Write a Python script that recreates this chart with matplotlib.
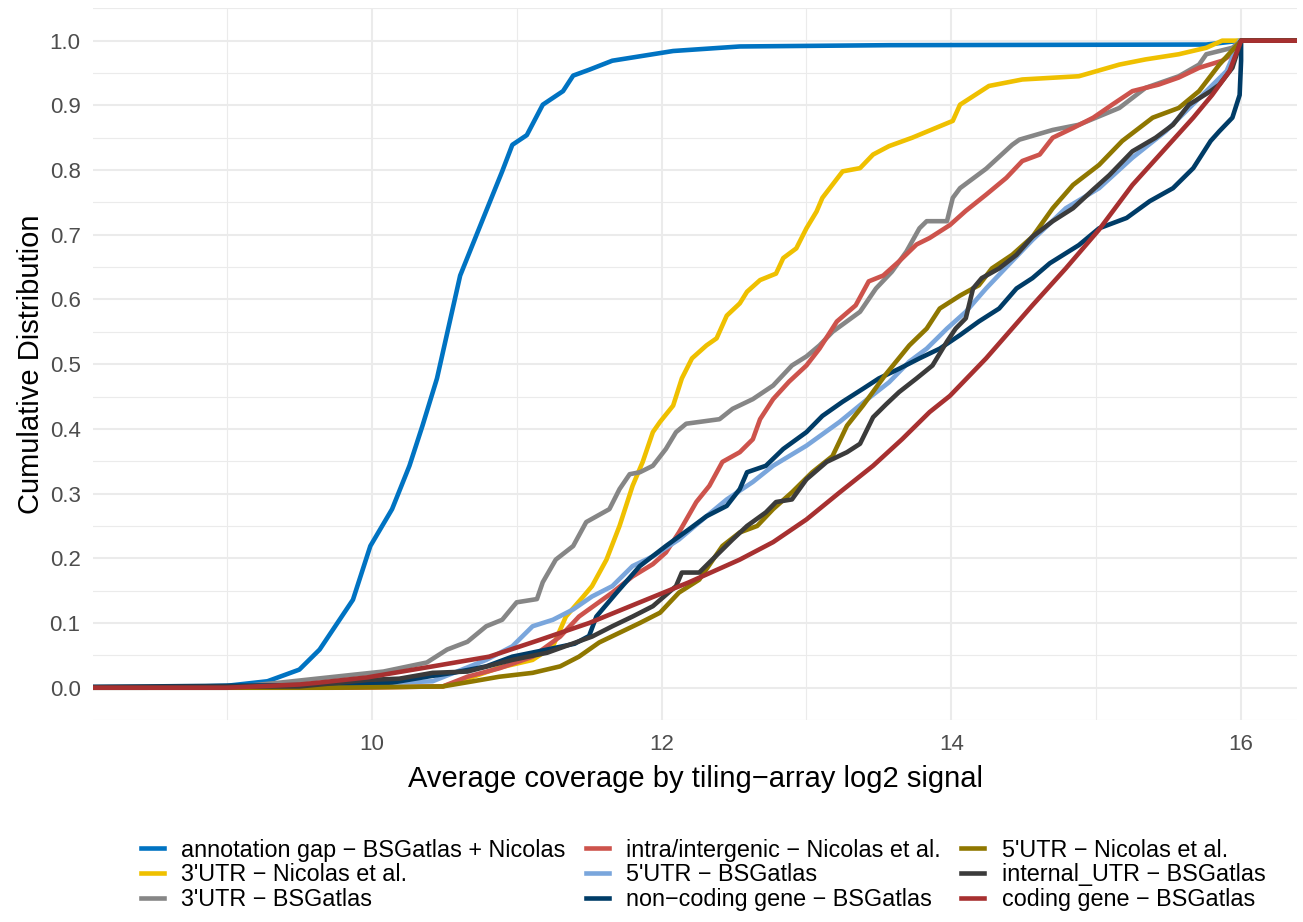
import numpy as np
import matplotlib
matplotlib.use("Agg")
import matplotlib.pyplot as plt

# Series (order = legend order = drawing order)
labels = [
    "annotation gap \u2212 BSGatlas + Nicolas",
    "3'UTR \u2212 Nicolas et al.",
    "3'UTR \u2212 BSGatlas",
    "intra/intergenic \u2212 Nicolas et al.",
    "5'UTR \u2212 BSGatlas",
    "non\u2212coding gene \u2212 BSGatlas",
    "5'UTR \u2212 Nicolas et al.",
    "internal_UTR \u2212 BSGatlas",
    "coding gene \u2212 BSGatlas",
]
colors = ["#0073C2", "#EFC000", "#868686", "#CD534C", "#7AA6DC",
          "#003C67", "#8F7700", "#3B3B3B", "#A73030"]

# ECDF points (log2 signal, cumulative fraction)
gap_x = [8.45, 9.0, 9.28, 9.5, 9.64, 9.87, 9.99, 10.14, 10.26, 10.35, 10.45, 10.61, 10.77,
         10.90, 10.97, 11.07, 11.18, 11.32, 11.39, 11.50, 11.66, 12.08, 12.54, 13.57, 15.76, 16.0]
gap_y = [0.0, 0.003, 0.01, 0.028, 0.059, 0.136, 0.219, 0.276, 0.343, 0.405, 0.478, 0.637, 0.726,
         0.798, 0.839, 0.854, 0.901, 0.922, 0.946, 0.955, 0.969, 0.984, 0.991, 0.993, 0.994, 1.0]

utr3_nic_x = [9.7, 10.49, 10.70, 10.88, 11.11, 11.25, 11.34, 11.46, 11.52, 11.62, 11.71, 11.80,
              11.87, 11.94, 11.99, 12.08, 12.14, 12.21, 12.31, 12.38, 12.45, 12.54, 12.59, 12.68,
              12.79, 12.84, 12.93, 13.00, 13.07, 13.11, 13.25, 13.37, 13.46, 13.57, 13.73, 14.01,
              14.06, 14.26, 14.49, 14.88, 15.16, 15.34, 15.57, 15.76, 15.87, 16.0]
utr3_nic_y = [0.0, 0.002, 0.017, 0.031, 0.043, 0.064, 0.11, 0.141, 0.157, 0.198, 0.25, 0.312,
              0.349, 0.395, 0.411, 0.436, 0.478, 0.509, 0.529, 0.54, 0.575, 0.594, 0.612, 0.63,
              0.64, 0.664, 0.679, 0.71, 0.736, 0.757, 0.798, 0.803, 0.824, 0.837, 0.85, 0.876,
              0.901, 0.93, 0.94, 0.945, 0.963, 0.971, 0.979, 0.989, 1.0, 1.0]

utr3_bsg_x = [9.0, 9.37, 9.87, 10.08, 10.38, 10.52, 10.66, 10.79, 10.90, 11.00, 11.14, 11.18,
              11.27, 11.39, 11.48, 11.64, 11.71, 11.78, 11.85, 11.94, 12.03, 12.10, 12.17, 12.40,
              12.49, 12.63, 12.77, 12.90, 13.00, 13.09, 13.18, 13.37, 13.48, 13.59, 13.69, 13.78,
              13.83, 13.97, 14.01, 14.06, 14.24, 14.42, 14.47, 14.70, 14.88, 15.16, 15.34, 15.57,
              15.71, 15.76, 15.94, 16.0]
utr3_bsg_y = [0.0, 0.008, 0.02, 0.025, 0.039, 0.059, 0.071, 0.095, 0.105, 0.132, 0.137, 0.163,
              0.198, 0.219, 0.256, 0.276, 0.307, 0.33, 0.333, 0.343, 0.369, 0.395, 0.408, 0.415,
              0.431, 0.446, 0.467, 0.498, 0.512, 0.529, 0.55, 0.581, 0.617, 0.643, 0.674, 0.71,
              0.721, 0.721, 0.757, 0.772, 0.802, 0.839, 0.847, 0.862, 0.87, 0.896, 0.927, 0.945,
              0.963, 0.979, 0.989, 1.0]

intra_x = [9.8, 10.49, 10.66, 10.88, 11.11, 11.30, 11.43, 11.66, 11.80, 11.94, 12.03, 12.12,
           12.24, 12.33, 12.42, 12.54, 12.63, 12.68, 12.77, 12.88, 13.00, 13.09, 13.21, 13.34,
           13.43, 13.53, 13.64, 13.76, 13.85, 13.99, 14.10, 14.24, 14.38, 14.49, 14.61, 14.70,
           14.84, 14.98, 15.11, 15.25, 15.43, 15.57, 15.71, 15.87, 15.97, 16.0]
intra_y = [0.0, 0.002, 0.017, 0.03, 0.048, 0.079, 0.11, 0.147, 0.172, 0.191, 0.209, 0.24,
           0.287, 0.312, 0.349, 0.364, 0.384, 0.415, 0.446, 0.473, 0.498, 0.524, 0.566, 0.591,
           0.628, 0.637, 0.659, 0.685, 0.695, 0.715, 0.737, 0.762, 0.788, 0.814, 0.824, 0.85,
           0.865, 0.881, 0.901, 0.922, 0.932, 0.943, 0.958, 0.969, 0.984, 1.0]

utr5_bsg_x = [9.0, 9.7, 10.19, 10.42, 10.79, 10.97, 11.11, 11.25, 11.39, 11.52, 11.66, 11.80,
              11.94, 12.12, 12.31, 12.45, 12.63, 12.77, 13.00, 13.23, 13.41, 13.57, 13.71, 13.83,
              13.97, 14.10, 14.24, 14.38, 14.56, 14.79, 15.02, 15.25, 15.48, 15.62, 15.76, 15.90,
              15.99]
utr5_bsg_y = [0.0, 0.003, 0.008, 0.01, 0.043, 0.064, 0.095, 0.105, 0.121, 0.141, 0.157, 0.188,
              0.203, 0.229, 0.265, 0.291, 0.318, 0.343, 0.374, 0.411, 0.444, 0.472, 0.504, 0.524,
              0.555, 0.581, 0.617, 0.65, 0.692, 0.741, 0.772, 0.819, 0.86, 0.891, 0.922, 0.953,
              1.0]

ncg_x = [8.45, 9.5, 9.97, 10.14, 10.38, 10.56, 10.79, 10.97, 11.21, 11.40, 11.50, 11.55, 11.69,
         11.85, 12.03, 12.19, 12.31, 12.45, 12.54, 12.59, 12.72, 12.84, 13.00, 13.11, 13.25,
         13.39, 13.50, 13.64, 13.78, 13.92, 14.06, 14.19, 14.33, 14.45, 14.56, 14.68, 14.88,
         15.02, 15.21, 15.37, 15.53, 15.67, 15.79, 15.85, 15.94, 15.99, 16.0, 16.0]
ncg_y = [0.002, 0.004, 0.006, 0.008, 0.017, 0.023, 0.033, 0.048, 0.059, 0.068, 0.08, 0.11, 0.147,
         0.188, 0.219, 0.245, 0.265, 0.281, 0.307, 0.333, 0.343, 0.369, 0.395, 0.42, 0.442,
         0.462, 0.478, 0.493, 0.509, 0.524, 0.545, 0.566, 0.586, 0.617, 0.633, 0.656, 0.684,
         0.71, 0.726, 0.752, 0.772, 0.803, 0.845, 0.86, 0.881, 0.916, 0.969, 1.0]

utr5_nic_x = [9.73, 10.49, 10.70, 10.88, 11.11, 11.30, 11.43, 11.57, 11.71, 11.85, 11.99, 12.12,
              12.26, 12.42, 12.54, 12.66, 12.77, 12.90, 13.04, 13.18, 13.28, 13.39, 13.55, 13.71,
              13.83, 13.92, 14.06, 14.19, 14.28, 14.42, 14.56, 14.70, 14.84, 15.02, 15.18, 15.39,
              15.57, 15.71, 15.85, 16.0]
utr5_nic_y = [0.0, 0.002, 0.01, 0.017, 0.023, 0.033, 0.048, 0.07, 0.085, 0.10, 0.116, 0.147,
              0.167, 0.219, 0.24, 0.25, 0.276, 0.302, 0.333, 0.358, 0.405, 0.436, 0.485, 0.529,
              0.555, 0.586, 0.606, 0.622, 0.648, 0.669, 0.697, 0.741, 0.777, 0.808, 0.845, 0.881,
              0.896, 0.922, 0.963, 1.0]

iutr_x = [9.5, 9.97, 10.19, 10.42, 10.66, 10.97, 11.21, 11.52, 11.66, 11.80, 11.94, 12.10,
          12.14, 12.26, 12.35, 12.49, 12.59, 12.72, 12.79, 12.90, 13.00, 13.14, 13.28, 13.37,
          13.46, 13.55, 13.64, 13.76, 13.87, 13.97, 14.03, 14.10, 14.15, 14.21, 14.33, 14.45,
          14.56, 14.70, 14.84, 14.98, 15.09, 15.25, 15.41, 15.53, 15.64, 15.79, 15.85, 15.94,
          16.0]
iutr_y = [0.002, 0.012, 0.014, 0.023, 0.025, 0.043, 0.054, 0.079, 0.095, 0.11, 0.126, 0.157,
          0.178, 0.178, 0.198, 0.229, 0.25, 0.271, 0.287, 0.291, 0.322, 0.349, 0.364, 0.377,
          0.418, 0.438, 0.457, 0.478, 0.498, 0.535, 0.555, 0.571, 0.617, 0.633, 0.648, 0.669,
          0.697, 0.721, 0.741, 0.77, 0.792, 0.829, 0.85, 0.87, 0.901, 0.922, 0.932, 0.958,
          1.0]

coding_x = [9.0, 9.5, 9.64, 9.97, 10.42, 10.81, 11.16, 11.50, 11.85, 12.19, 12.54, 12.77,
            13.00, 13.23, 13.46, 13.66, 13.85, 13.99, 14.24, 14.56, 14.79, 15.02, 15.25, 15.48,
            15.67, 15.80, 15.92, 16.0]
coding_y = [0.0, 0.005, 0.008, 0.016, 0.033, 0.048, 0.074, 0.10, 0.132, 0.163, 0.198, 0.225,
            0.26, 0.302, 0.343, 0.384, 0.426, 0.451, 0.509, 0.591, 0.648, 0.708, 0.777, 0.834,
            0.881, 0.916, 0.953, 1.0]

series_x = [gap_x, utr3_nic_x, utr3_bsg_x, intra_x, utr5_bsg_x, ncg_x, utr5_nic_x, iutr_x, coding_x]
series_y = [gap_y, utr3_nic_y, utr3_bsg_y, intra_y, utr5_bsg_y, ncg_y, utr5_nic_y, iutr_y, coding_y]


def main():
    plt.rcParams['font.family'] = ['Liberation Sans', 'DejaVu Sans']

    fig = plt.figure(figsize=(13.03, 9.22), dpi=100)
    ax = fig.add_axes([0.0714, 0.219, 0.924, 0.772])

    xlo, xhi = 8.076, 16.386
    for xs, ys, lab, col in zip(series_x, series_y, labels, colors):
        # pad like stat_ecdf: flat at 0 to the left, flat at 1 to the right
        xs = [xlo - 1] + list(xs) + [xhi + 1]
        ys = [0.0] + list(ys) + [1.0]
        ax.plot(xs, ys, color=col, lw=3.3, label=lab)

    ax.set_xlim(xlo, xhi)
    ax.set_ylim(-0.05, 1.05)
    ax.set_xticks([10, 12, 14, 16])
    ax.set_xticks([9, 11, 13, 15], minor=True)
    ax.set_yticks(np.arange(0, 1.01, 0.1))
    ax.set_yticks(np.arange(-0.05, 1.06, 0.1), minor=True)
    ax.set_yticklabels([f"{v:.1f}" for v in np.arange(0, 1.01, 0.1)])

    ax.grid(which='major', color='#EBEBEB', lw=1.5)
    ax.grid(which='minor', color='#EBEBEB', lw=0.8)
    ax.set_axisbelow(True)
    for s in ax.spines.values():
        s.set_visible(False)
    ax.tick_params(which='both', length=0)
    ax.tick_params(axis='both', labelsize=16, labelcolor='#4D4D4D')
    ax.tick_params(axis='x', pad=10)
    ax.tick_params(axis='y', pad=9)

    ax.set_xlabel('Average coverage by tiling\u2212array log2 signal', fontsize=21, labelpad=7)
    ax.set_ylabel('Cumulative Distribution', fontsize=21, labelpad=3)

    fig.legend(loc='center', bbox_to_anchor=(0.5395, 0.051), ncol=3, frameon=False,
               fontsize=16.8, handlelength=1.0, handletextpad=0.75, columnspacing=0.85,
               labelspacing=0.08)

    fig.savefig('out.png', dpi=100)


if __name__ == "__main__":
    main()
